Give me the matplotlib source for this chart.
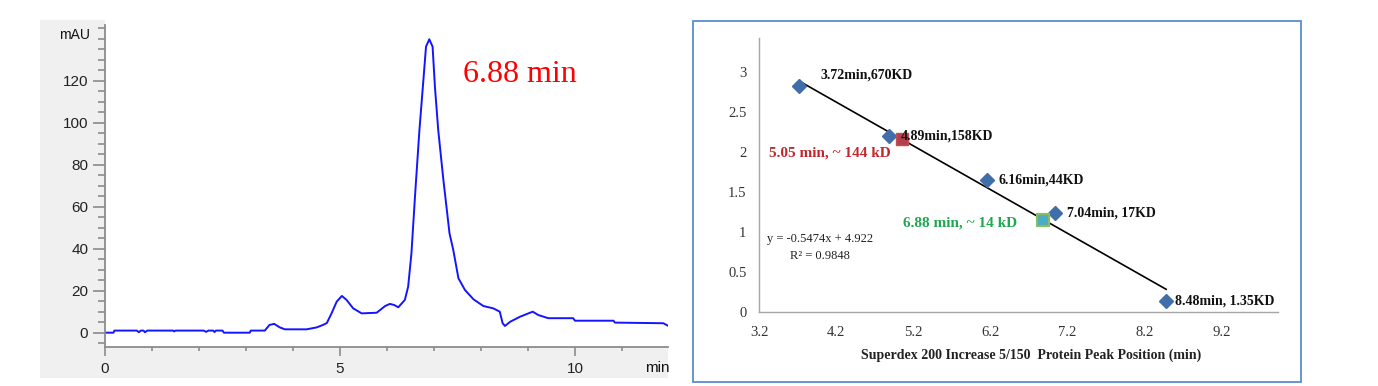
import matplotlib.pyplot as plt
import numpy as np
from matplotlib.patches import Rectangle
from matplotlib.ticker import MultipleLocator

plt.rcParams['font.family'] = 'Liberation Sans'

# chromatogram trace (left panel)
rt_min = [0, 0.18, 0.2, 0.68, 0.72, 0.76, 0.82, 0.85, 0.9, 1.45, 1.47, 1.5,
          2.1, 2.15, 2.2, 2.3, 2.33, 2.36, 2.5, 2.53, 3.08, 3.1, 3.4, 3.5,
          3.6, 3.72, 3.83, 4.29, 4.5, 4.64, 4.72, 4.82, 4.93, 5.04, 5.14,
          5.28, 5.46, 5.78, 5.96, 6.06, 6.15, 6.24, 6.38, 6.45, 6.52, 6.6,
          6.69, 6.78, 6.83, 6.9, 6.97, 7.02, 7.09, 7.2, 7.33, 7.41, 7.52,
          7.66, 7.84, 8.05, 8.26, 8.4, 8.46, 8.51, 8.62, 8.83, 9.1, 9.22,
          9.43, 9.96, 10.0, 10.82, 10.85, 11.88, 11.98]
mau = [0, 0, 1.0, 1.0, 0.2, 1.0, 1.0, 0.2, 1.0, 1.0, 0.6, 1.0,
       1.0, 0.4, 1.0, 1.0, 0.3, 1.0, 1.0, 0, 0, 1.0, 1.0, 3.7,
       4.2, 2.5, 1.6, 1.6, 2.5, 3.7, 4.6, 9.2, 14.8, 17.5, 15.6,
       11.6, 9.2, 9.5, 12.7, 13.7, 13.2, 12.1, 15.6, 21.9, 37.8, 66.4,
       96.5, 121.9, 136.2, 139.7, 136.2, 117, 96.5, 72.7, 47.3, 39.4, 25.9,
       20.3, 15.9, 12.7, 11.6, 10.0, 4.5, 3.2, 5.2, 7.6, 10.0, 8.4,
       6.9, 6.9, 5.7, 5.7, 4.8, 4.5, 3.3]
peak_label = '6.88 min'

# calibration standards (right panel)
std_rt = [3.72, 4.89, 6.16, 7.04, 8.48]
std_kd = [670, 158, 44, 17, 1.35]
std_labels = ['3.72min,670KD', '4.89min,158KD', '6.16min,44KD',
              '7.04min, 17KD', '8.48min, 1.35KD']
sample_rt = [5.05, 6.88]
sample_kd = [144, 14]
sample_labels = ['5.05 min, ~ 144 kD', '6.88 min, ~ 14 kD']
fit_text = 'y = -0.5474x + 4.922\nR² = 0.9848'

fig = plt.figure(figsize=(13.78, 3.86), dpi=100)

# ---------------- left: chromatogram ----------------
fig.patches.append(Rectangle((0.029, 0.0207), 0.4557, 0.9275, transform=fig.transFigure,
                             facecolor='#f0f0f0', edgecolor='none', zorder=-5))
ax1 = fig.add_axes([0.0762, 0.1003, 0.4086, 0.848])
ax1.set_facecolor('white')
ax1.plot(rt_min, mau, color='#1414ff', lw=1.4)
ax1.set_xlim(0, 11.98)
ax1.set_ylim(-6.95, 148.9)
ax1.set_yticks(range(0, 121, 20))
ax1.yaxis.set_minor_locator(MultipleLocator(5))
ax1.set_xticks([0, 5, 10])
ax1.xaxis.set_minor_locator(MultipleLocator(1))
for s in ['top', 'right']:
    ax1.spines[s].set_visible(False)
for s in ['left', 'bottom']:
    ax1.spines[s].set_color('#8c8c8c')
    ax1.spines[s].set_linewidth(1.3)
ax1.spines['left'].set_bounds(-6.95, 146.5)
ax1.tick_params(axis='y', which='major', length=8.5, width=1.2, color='#8c8c8c',
                pad=3.5, labelsize=11, labelcolor='#222222')
ax1.tick_params(axis='y', which='minor', length=5, width=1.2, color='#8c8c8c')
ax1.tick_params(axis='x', which='major', length=6.5, width=1.2, color='#8c8c8c',
                pad=4, labelsize=11, labelcolor='#222222')
ax1.tick_params(axis='x', which='minor', length=3, width=1.2, color='#8c8c8c')
ax1.text(-0.32, 141.8, 'mAU', ha='right', va='center', fontsize=10, color='#111111')
fig.text(645 / 1378, 1 - 368 / 386, 'min', ha='left', va='center', fontsize=11, color='#111111')
ax1.text(7.61, 122.7, peak_label, ha='left', va='center', color='#ff0000',
         fontsize=23, family='Liberation Serif')

# ---------------- right: calibration curve ----------------
fig.patches.append(Rectangle((0.5027, 0.0111), 0.4412, 0.9345, transform=fig.transFigure,
                             fill=False, edgecolor='#5b8bd0', lw=1.3, zorder=-5))
ax2 = fig.add_axes([0.5508, 0.1925, 0.3766, 0.7083])
ax2.patch.set_alpha(0)
log_kd = np.log10(std_kd)
slope, intercept = np.polyfit(std_rt, log_kd, 1)
xs = np.array([min(std_rt), max(std_rt)])
ax2.plot(xs, slope * xs + intercept, color='black', lw=1.2, zorder=2)
ax2.plot(std_rt, log_kd, 'D', color='#3f6ea8', ms=7, zorder=3)
ax2.plot(sample_rt[0], np.log10(sample_kd[0]), 's', mfc='#b5404d', mec='#c0504d', ms=8, zorder=3)
ax2.plot(sample_rt[1], np.log10(sample_kd[1]), 's', mfc='#4bacc6', mec='#8fbc5a', mew=1.5, ms=8, zorder=3)

ax2.set_xlim(3.2, 9.93)
ax2.set_ylim(0, 3.42)
ax2.set_xticks(np.arange(3.2, 9.3, 1.0))
ax2.set_xticklabels(['3.2', '4.2', '5.2', '6.2', '7.2', '8.2', '9.2'])
ax2.set_yticks([0, 0.5, 1, 1.5, 2, 2.5, 3])
ax2.set_yticklabels(['0', '0.5', '1', '1.5', '2', '2.5', '3'])
for s in ['top', 'right']:
    ax2.spines[s].set_visible(False)
for s in ['left', 'bottom']:
    ax2.spines[s].set_color('#a6a6a6')
    ax2.spines[s].set_linewidth(1.0)
ax2.tick_params(length=0, labelsize=10.5, labelcolor='#333333')
ax2.tick_params(axis='y', pad=9)
ax2.tick_params(axis='x', pad=10)
for lbl in ax2.get_xticklabels() + ax2.get_yticklabels():
    lbl.set_family('Liberation Serif')

label_pos = [(4.0, 2.96), (5.04, 2.196), (6.31, 1.646), (7.2, 1.23), (8.6, 0.135)]
for (lx, ly), txt in zip(label_pos, std_labels):
    ax2.text(lx, ly, txt, ha='left', va='center', fontsize=10, fontweight='bold',
             family='Liberation Serif', color='#111111')
ax2.text(3.33, 1.99, sample_labels[0], ha='left', va='center', fontsize=11,
         fontweight='bold', family='Liberation Serif', color='#c0282d')
ax2.text(5.07, 1.11, sample_labels[1], ha='left', va='center', fontsize=11,
         fontweight='bold', family='Liberation Serif', color='#1fa84f')
ax2.text(3.99, 0.806, fit_text, ha='center', va='center', fontsize=9,
         family='Liberation Serif', color='#222222', linespacing=1.55,
         multialignment='center')
fig.text(1031 / 1378, 1 - 355 / 386, 'Superdex 200 Increase 5/150  Protein Peak Position (min)',
         ha='center', va='center', fontsize=10, fontweight='bold',
         family='Liberation Serif', color='#222222')

fig.savefig('out.png', dpi=100)
